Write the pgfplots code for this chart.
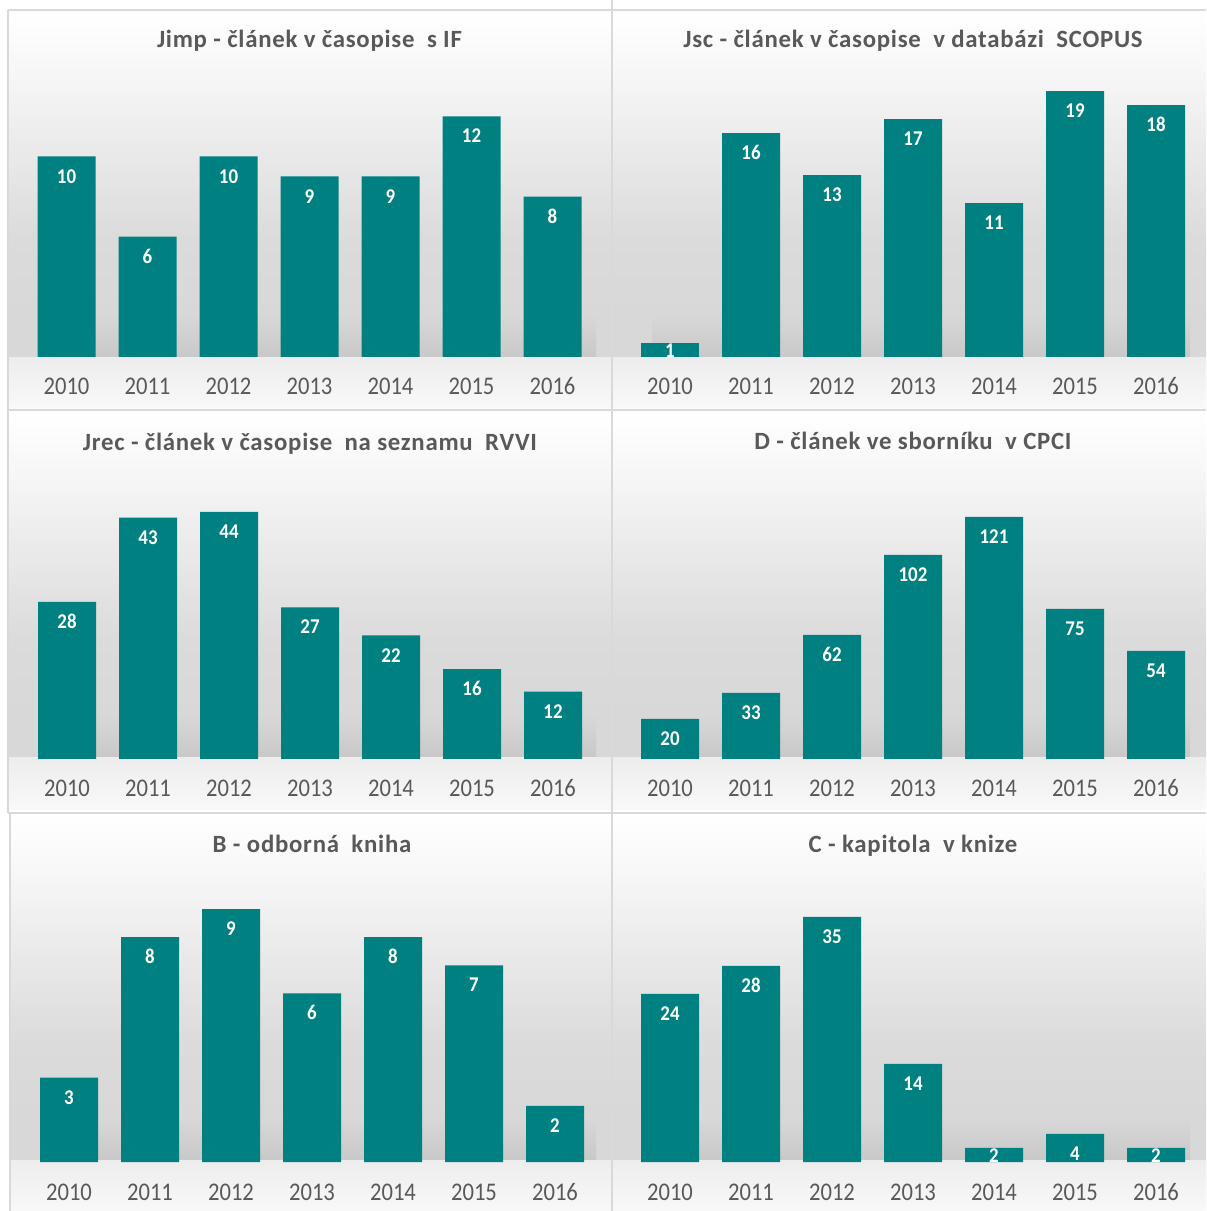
\documentclass[border=0pt]{standalone}
\usepackage{fontspec}
\setmainfont{Carlito}
\newfontfamily\tickfont{Carlito}[FakeStretch=0.89]
\newfontfamily\valfont{Carlito}[FakeStretch=0.9]
\newfontfamily\titlefont{Carlito}[LetterSpace=3]
\usepackage{pgfplots}
\pgfplotsset{compat=1.18}

\definecolor{barteal}{HTML}{008080}
\definecolor{txtgray}{HTML}{595959}
\definecolor{framegray}{HTML}{D9D9D9}
\definecolor{bgA}{HTML}{F7F7F7}
\definecolor{bgB}{HTML}{DBDBDB}
\definecolor{bgC}{HTML}{D8D8D8}
\definecolor{bgD}{HTML}{C8C8C8}
\definecolor{bgE}{HTML}{EDEDED}
\definecolor{bgF}{HTML}{F9F9F9}

\pgfplotsset{
  panel/.style={
    ybar, bar shift=0pt, bar width=29pt,
    scale only axis, width=283.5pt, height=146pt,
    anchor=south west,
    xmin=-0.5, xmax=6.5, ymin=0,
    axis line style={draw=none},
    major tick length=0pt,
    ytick=\empty,
    xtick={0,...,6},
    xticklabels={2010,2011,2012,2013,2014,2015,2016},
    xticklabel style={anchor=base, yshift=-19pt, text=txtgray,
      font=\tickfont\fontsize{12.7}{14}\selectfont},
    title style={at={(0.5,1)}, anchor=base, yshift=2.5pt, text=txtgray,
      font=\titlefont\bfseries\fontsize{12.4}{14}\selectfont},
    clip=false,
    nodes near coords,
    nodes near coords style={anchor=base, yshift=-13.3pt, text=white,
      font=\valfont\bfseries\fontsize{10.5}{12}\selectfont},
    /pgf/number format/assume math mode=true,
  },
  small/.style={nodes near coords style={yshift=5.8pt}},
}

% panel background: #1 left, #2 top, #3 width (pt, no unit)
\newcommand\panelbg[3]{%
  \begin{scope}[shift={(#1pt,#2pt)}]
    \shade[top color=white, bottom color=bgA] (0,0) rectangle (#3pt,-30pt);
    \shade[top color=bgA, bottom color=bgB] (0,-30pt) rectangle (#3pt,-115pt);
    \shade[top color=bgB, bottom color=bgC] (0,-115pt) rectangle (#3pt,-152pt);
    \shade[top color=bgC, bottom color=bgC] (0,-152pt) rectangle (#3pt,-174pt);
    \shade[top color=bgC, bottom color=bgD] (20pt,-152pt) rectangle (#3pt-8pt,-174pt);
    \shade[top color=bgE, bottom color=bgF] (0,-174pt) rectangle (#3pt,-200pt);
  \end{scope}}

\begin{document}
\begin{tikzpicture}
\useasboundingbox (0,0) rectangle (603pt,605.5pt);
\fill[white] (0,0) rectangle (603pt,605.5pt);

\panelbg{4}{600.5}{302}
\panelbg{306}{600.5}{297}
\panelbg{4}{400.5}{302}
\panelbg{306}{400.5}{297}
\panelbg{5}{199}{301}
\panelbg{306}{199}{297}

\draw[framegray, line width=0.8pt] (4pt,600.5pt) -- (603pt,600.5pt);
\draw[framegray, line width=0.8pt] (4pt,400.5pt) -- (603pt,400.5pt);
\draw[framegray, line width=0.8pt] (4pt,199pt) -- (603pt,199pt);
\draw[framegray, line width=0.8pt] (4pt,600.5pt) -- (4pt,199pt);
\draw[framegray, line width=0.8pt] (5pt,199pt) -- (5pt,0pt);
\draw[framegray, line width=0.8pt] (306pt,605.5pt) -- (306pt,0pt);

% Jimp
\begin{axis}[panel, at={(13pt,427pt)}, ymax=14.56,
  title={Jimp - článek v časopise\enspace s IF}]
\addplot[fill=barteal, draw=none] coordinates
  {(0,10) (1,6) (2,10) (3,9) (4,9) (5,12) (6,8)};
\end{axis}

% Jsc
\begin{axis}[panel, at={(314.75pt,427pt)}, ymax=20.86,
  title={Jsc - článek v časopise\enspace v databázi\enspace SCOPUS}]
\addplot[fill=barteal, draw=none, small] coordinates {(0,1)};
\addplot[fill=barteal, draw=none] coordinates
  {(1,16) (2,13) (3,17) (4,11) (5,19) (6,18)};
\end{axis}

% Jrec
\begin{axis}[panel, at={(13.25pt,226pt)}, ymax=52.0,
  title={Jrec - článek v časopise\enspace na seznamu\enspace RVVI}]
\addplot[fill=barteal, draw=none] coordinates
  {(0,28) (1,43) (2,44) (3,27) (4,22) (5,16) (6,12)};
\end{axis}

% D
\begin{axis}[panel, at={(314.75pt,226pt)}, ymax=146,
  title={D - článek ve sborníku\enspace v CPCI}]
\addplot[fill=barteal, draw=none] coordinates
  {(0,20) (1,33) (2,62) (3,102) (4,121) (5,75) (6,54)};
\end{axis}

% B
\begin{axis}[panel, at={(14.25pt,24.5pt)}, ymax=10.39,
  title={B - odborná\enspace kniha}]
\addplot[fill=barteal, draw=none] coordinates
  {(0,3) (1,8) (2,9) (3,6) (4,8) (5,7) (6,2)};
\end{axis}

% C
\begin{axis}[panel, at={(314.75pt,24.5pt)}, ymax=41.71,
  title={C - kapitola\enspace v knize}]
\addplot[fill=barteal, draw=none] coordinates
  {(0,24) (1,28) (2,35) (3,14) (5,4)};
\addplot[fill=barteal, draw=none, small] coordinates {(4,2) (6,2)};
\end{axis}
\end{tikzpicture}
\end{document}
